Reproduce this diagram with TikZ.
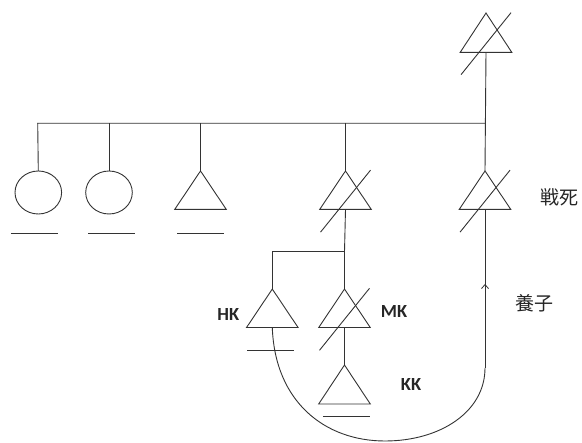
\documentclass[tikz,border=0pt]{standalone}
\usepackage{fontspec}
\setmainfont{Carlito}
\newfontfamily\jpfont{Noto Sans CJK JP}
\usetikzlibrary{shapes.geometric,decorations.markings,arrows.meta}

\tikzset{
  line/.style={draw=black!80, line width=0.9pt},
  person/.style={inner sep=0pt, outer sep=0pt, minimum width=51.6pt, minimum height=38.5pt},
  female/.style={ellipse, inner sep=0pt, outer sep=0pt, minimum width=46.6pt, minimum height=43pt, line},
  codelabel/.style={font=\fontsize{18.5}{18.5}\selectfont\bfseries, text=black!85, inner sep=0pt},
  jplabel/.style={font=\jpfont\fontsize{19}{19}\selectfont, text=black!85, inner sep=0pt},
  uptip/.style={postaction={decorate, decoration={markings,
      mark=at position 0.53 with {\arrow{Straight Barb[length=4pt,width=7pt,line width=0.8pt]}}}}}
}

% triangle drawn through the anchors of a person node
\newcommand\malemark[1]{\draw[line, line join=miter] (#1.north) -- (#1.south west) -- (#1.south east) -- cycle;}
% diagonal stroke through a person symbol
\newcommand\deathmark[1]{\draw[line] ([shift={(-25pt,-42pt)}]#1.center) -- ([shift={(25pt,20pt)}]#1.center);}
% short line below a symbol: node anchor, x offset, distance below
\newcommand\groundline[3]{\draw[line] ([shift={(#2-23.5pt,-#3)}]#1) -- ([shift={(#2+23.5pt,-#3)}]#1);}

\begin{document}
\begin{tikzpicture}[x=1pt, y=-1pt]
\useasboundingbox (0,0) rectangle (582,443);

% symbols
\node[female] (c1) at (38.3,192.5) {};
\node[female] (c2) at (109,192.5) {};
\node[person] (t3) at (200.5,190.2) {};
\node[person] (t4) at (345.5,190.2) {};
\node[person] (t5) at (485,190.2) {};
\node[person, minimum height=39.3pt] (t0) at (486,32.7) {};
\node[person] (hk) at (272.3,308.3) {};
\node[person] (mk) at (344.5,308.3) {};
\node[person, minimum height=39pt] (kk) at (344.5,384.5) {};

\foreach \n in {t3,t4,t5,t0,hk,mk,kk} {\malemark{\n}}
\foreach \n in {t4,t5,t0,mk} {\deathmark{\n}}

% lines under symbols
\groundline{c1.south}{-4pt}{19.3pt}
\groundline{c2.south}{2.7pt}{19.3pt}
\groundline{t3.south}{0pt}{24pt}
\groundline{hk.south}{-1.8pt}{23.3pt}
\groundline{kk.south}{1.8pt}{12.7pt}

% sibling bus
\coordinate (busL) at (37.7,123.3);
\coordinate (busR) at (485,123.3);
\coordinate (fork) at (344.5,251.7);
\draw[line] (c1.north) -- (busL) -- (busR);
\draw[line] (c2.north) -- (c2.north |- busL);
\draw[line] (t3.north) -- (t3.north |- busL);
\draw[line] (t4.north) -- (t4.north |- busL);
\draw[line] (t0.south) -- (t5.north);

% children
\draw[line] (t4.south) -- (fork) -- (mk.north);
\draw[line] (fork) -| (hk.north);
\draw[line] (mk.south) -- (kk.north);

% adoption
\coordinate (turn) at (485,368);
\draw[line] (hk.south) .. controls (275,402) and (325,441) .. (385,441)
  .. controls (440,441) and (485,412) .. (turn);
\draw[line, uptip] (turn) -- (t5.south);

% labels
\node[codelabel] (lhk) at (228.3,315) {HK};
\node[codelabel] (lmk) at (394,312) {MK};
\node[codelabel] (lkk) at (411,385) {KK};
\node[jplabel] (ldead) at (559.5,197.3) {戦死};
\node[jplabel] (ladopt) at (534,303) {養子};
\end{tikzpicture}
\end{document}
